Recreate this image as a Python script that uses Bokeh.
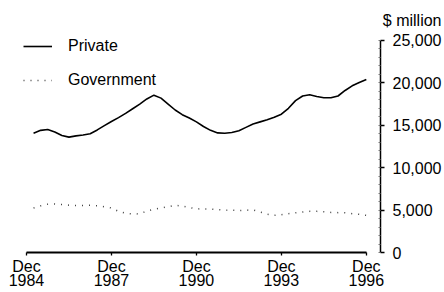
from bokeh.plotting import figure
from bokeh.models import Range1d, Title, Legend, LegendItem, NumeralTickFormatter, FixedTicker
from bokeh.embed import file_html
from bokeh.resources import INLINE

# quarter index: 0 = Dec 1984, 48 = Dec 1996 (series start Mar 1985)
quarters = list(range(1, 49))

private = [14050, 14400, 14500, 14200, 13800, 13600, 13750, 13850,
           14000, 14450, 14950, 15450, 15900, 16400, 16950, 17500,
           18100, 18550, 18200, 17500, 16800, 16250, 15850, 15400,
           14850, 14400, 14100, 14050, 14150, 14350, 14750, 15150,
           15400, 15650, 15950, 16300, 17000, 17900, 18450, 18600,
           18400, 18250, 18250, 18450, 19100, 19650, 20050, 20400]

government = [5250, 5500, 5700, 5720, 5660, 5580, 5550, 5550,
              5560, 5500, 5400, 5250, 4850, 4620, 4540, 4560,
              4880, 5080, 5260, 5380, 5560, 5480, 5300, 5150,
              5130, 5120, 5050, 5000, 4980, 4950, 4980, 5030,
              4780, 4520, 4380, 4450, 4580, 4680, 4780, 4850,
              4850, 4800, 4730, 4700, 4680, 4580, 4500, 4380]

x_tick_pos = [0, 12, 24, 36, 48]
x_tick_labels = ["Dec\n1984", "Dec\n1987", "Dec\n1990", "Dec\n1993", "Dec\n1996"]
y_ticks = [0, 5000, 10000, 15000, 20000, 25000]

FONT = "Liberation Sans"

p = figure(width=444, height=292, output_backend="svg", toolbar_location=None,
           x_range=Range1d(-0.42, 50.0), y_range=Range1d(0, 25700),
           y_axis_location="right",
           min_border_left=23, min_border_right=63, min_border_top=34, min_border_bottom=39)
p.outline_line_color = None
p.grid.visible = False
p.background_fill_color = "white"

r_priv = p.line(quarters, private, line_color="black", line_width=1.6)
r_gov = p.line(quarters, government, line_color="#444444", line_width=1.5, line_dash="1 6")

# x axis
xa = p.xaxis[0]
xa.ticker = FixedTicker(ticks=x_tick_pos)
xa.major_label_overrides = {t: l for t, l in zip(x_tick_pos, x_tick_labels)}
xa.bounds = (x_tick_pos[0], x_tick_pos[-1])
xa.axis_line_width = 1.8
xa.axis_line_color = "black"
xa.major_tick_out = 3
xa.major_tick_in = 0
xa.major_tick_line_width = 1.3
xa.minor_tick_line_color = None
xa.major_label_standoff = 2
xa.major_label_text_font = FONT
xa.major_label_text_font_size = "16px"
xa.major_label_text_color = "black"
xa.major_label_text_line_height = 0.88

# y axis (right)
ya = p.yaxis[0]
ya.ticker = FixedTicker(ticks=y_ticks, minor_ticks=list(range(0, 25001, 1000)))
ya.formatter = NumeralTickFormatter(format="0,0")
ya.bounds = (y_ticks[0], y_ticks[-1])
ya.axis_line_width = 1.5
ya.axis_line_color = "black"
ya.major_tick_out = 4
ya.major_tick_in = 0
ya.major_tick_line_width = 1.3
ya.minor_tick_in = 2
ya.minor_tick_out = 0
ya.minor_tick_line_color = "#777777"
ya.major_label_standoff = 8
ya.major_label_text_font = FONT
ya.major_label_text_font_size = "16px"
ya.major_label_text_color = "black"

# unit label
p.add_layout(Title(text="$ million", align="right", offset=-61, standoff=11,
                   text_font=FONT, text_font_size="16px", text_font_style="normal",
                   text_color="black"), "above")

legend = Legend(items=[LegendItem(label="Private", renderers=[r_priv]),
                       LegendItem(label="Government", renderers=[r_gov])],
                location=(0, 163), margin=0, padding=0, spacing=16,
                glyph_width=29, glyph_height=10, label_height=10, label_standoff=16,
                label_text_font=FONT, label_text_font_size="16px", label_text_color="black",
                background_fill_alpha=0, border_line_color=None)
p.add_layout(legend)

open("out.html", "w").write(file_html(p, INLINE))
